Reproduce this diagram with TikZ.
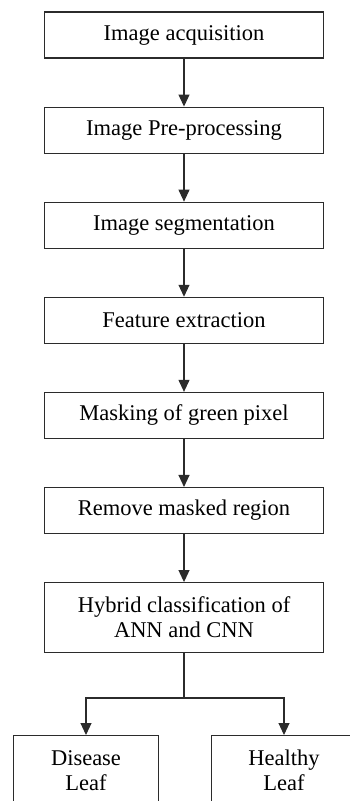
\documentclass[tikz,border=0pt]{standalone}
\usepackage{fontspec}
\setmainfont{Liberation Serif}
\usepackage{xcolor}
\usetikzlibrary{positioning, arrows.meta}
\definecolor{boxline}{HTML}{2B2B2B}

\tikzset{
  stagebox/.style={draw=boxline, line width=1.1pt, minimum width=279pt,
    minimum height=46pt, inner sep=0pt, align=center,
    font=\fontsize{22.5}{25}\selectfont},
  leafbox/.style={stagebox, minimum width=145pt, minimum height=70pt, anchor=north},
  flow/.style={draw=boxline, line width=1.1pt, -{Triangle[length=12pt,width=11pt]}}
}

\begin{document}
\begin{tikzpicture}[x=1pt, y=1pt, node distance=48pt]
  \useasboundingbox (0,0) rectangle (350,-801);
  \clip (0,0) rectangle (350,-801);

  % main chain
  \node[stagebox] (acq) at (184,-35) {Image acquisition};
  \node[stagebox, below=of acq] (pre) {Image Pre-processing};
  \node[stagebox, below=of pre] (seg) {Image segmentation};
  \node[stagebox, below=of seg] (feat) {Feature extraction};
  \node[stagebox, below=of feat] (mask) {Masking of green pixel};
  \node[stagebox, below=of mask] (remove) {Remove masked region};
  \node[stagebox, minimum height=70pt, below=of remove] (hybrid)
    {Hybrid classification of\\ANN and CNN};

  % outcome
  \coordinate (split) at (184,-698);
  \node[leafbox] (disease) at (86,-735) {Disease\\Leaf};
  \node[leafbox] (healthy) at (284,-735) {Healthy\\Leaf};

  \draw[flow] (acq) -- (pre);
  \draw[flow] (pre) -- (seg);
  \draw[flow] (seg) -- (feat);
  \draw[flow] (feat) -- (mask);
  \draw[flow] (mask) -- (remove);
  \draw[flow] (remove) -- (hybrid);
  \draw[boxline, line width=1.1pt] (hybrid.south) -- (split);
  \draw[flow] (split) -| (disease.north);
  \draw[flow] (split) -| (healthy.north);
\end{tikzpicture}
\end{document}
